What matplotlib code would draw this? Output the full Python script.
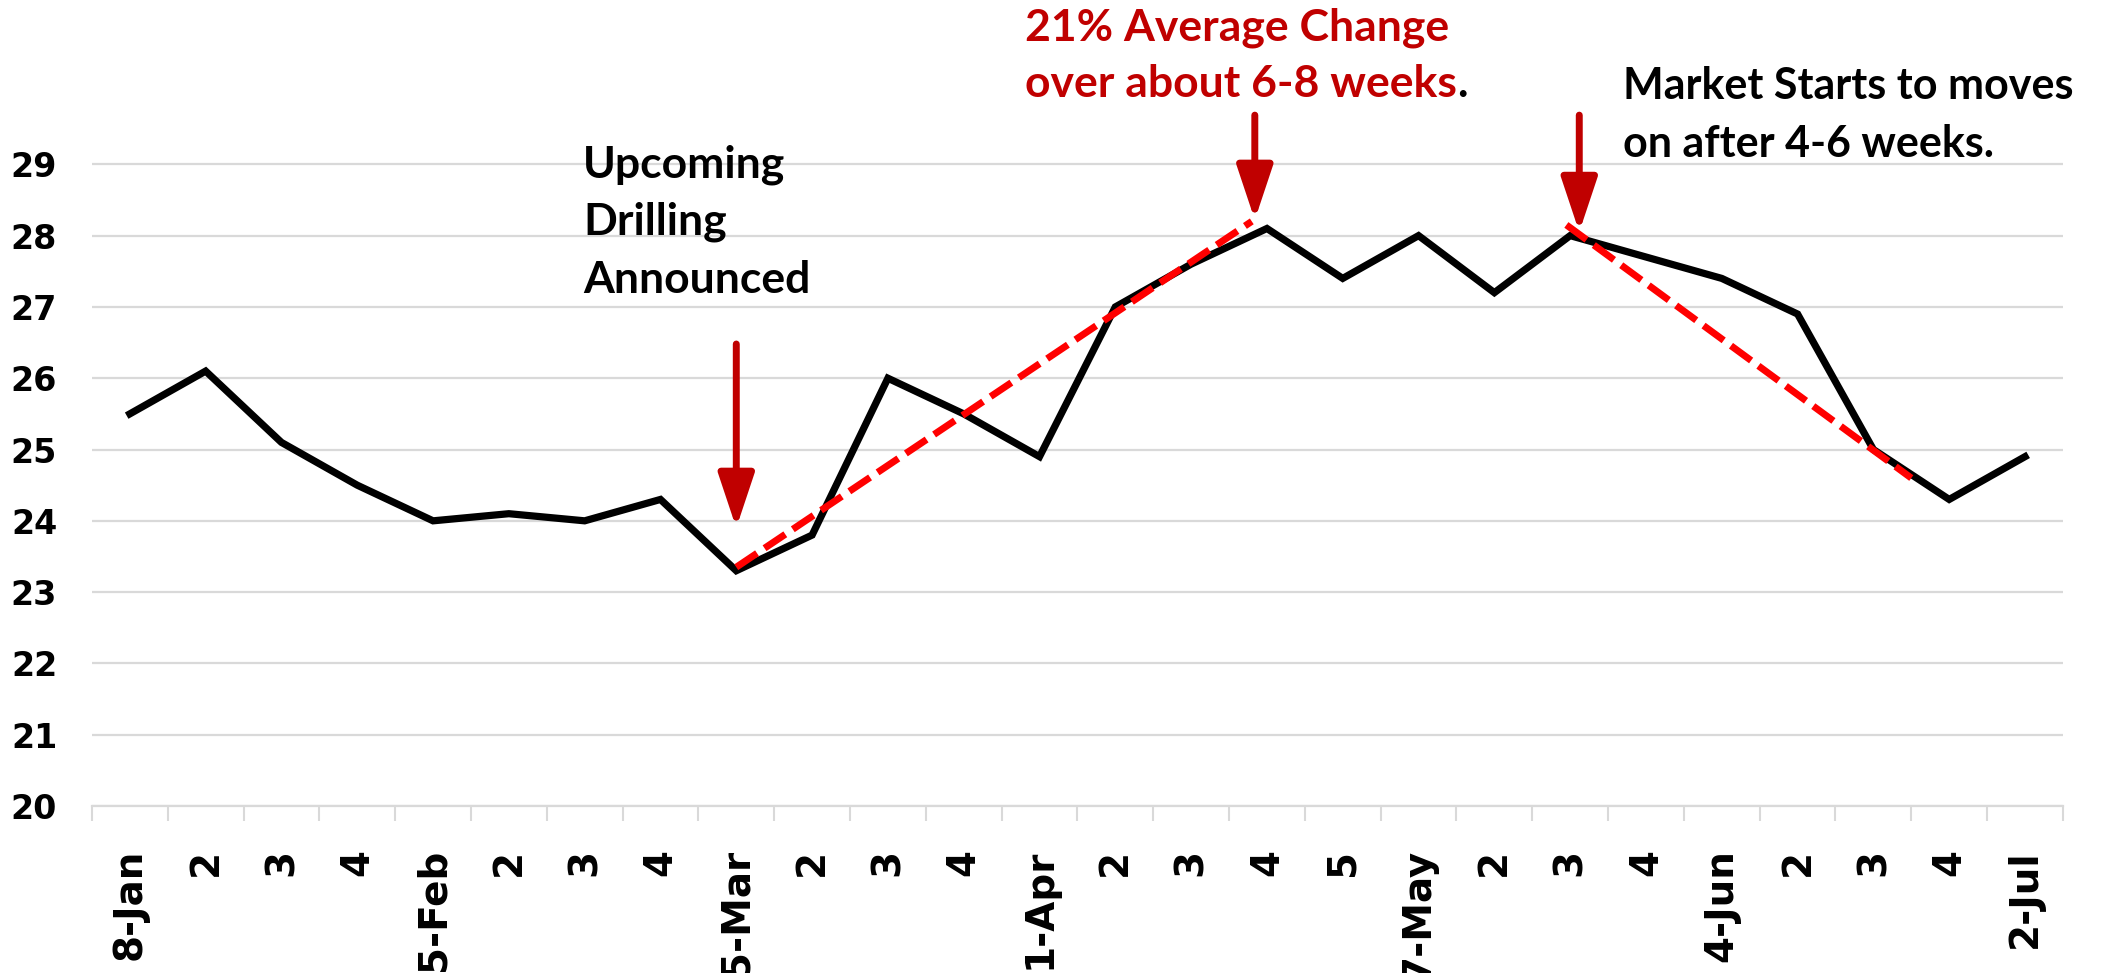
import matplotlib
matplotlib.use("Agg")
import matplotlib.pyplot as plt

# weekly price data
week_labels = ["8-Jan", "2", "3", "4", "5-Feb", "2", "3", "4", "5-Mar", "2", "3", "4",
               "1-Apr", "2", "3", "4", "5", "7-May", "2", "3", "4", "4-Jun", "2", "3", "4", "2-Jul"]
prices = [25.5, 26.1, 25.1, 24.5, 24.0, 24.1, 24.0, 24.3, 23.3, 23.8, 26.0, 25.5,
          24.9, 27.0, 27.6, 28.1, 27.4, 28.0, 27.2, 28.0, 27.7, 27.4, 26.9, 25.0, 24.3, 24.9]
y_ticks = [20, 21, 22, 23, 24, 25, 26, 27, 28, 29]

# trend lines (start / end in week index, price)
rise_x = [8.0, 14.8]
rise_y = [23.35, 28.2]
fall_x = [18.95, 23.5]
fall_y = [28.15, 24.6]

# arrows: x, tail y, tip y
arrow_x = [8.0, 14.84, 19.12]
arrow_top = [26.48, 29.69, 29.69]
arrow_tip = [23.9, 28.22, 28.05]

DARK_RED = "#C00000"
GRID = "#D9D9D9"
note_font = ["Lato", "DejaVu Sans"]

fig = plt.figure(figsize=(21.13, 9.73), dpi=100)
ax = fig.add_axes([0.0435, 0.1716, 0.9328, 0.7328])

x = list(range(len(prices)))
ax.plot(x, prices, color="black", lw=5.2, solid_joinstyle="miter", zorder=3)
ax.plot(rise_x, rise_y, color="#FF0000", lw=5, dashes=(3.6, 1.3), zorder=4)
ax.plot(fall_x, fall_y, color="#FF0000", lw=5, dashes=(3.6, 1.3), zorder=4)

for ax_x, top, tip in zip(arrow_x, arrow_top, arrow_tip):
    ax.annotate("", xy=(ax_x, tip), xytext=(ax_x, top),
                arrowprops=dict(arrowstyle="-|>,head_length=33,head_width=11",
                                mutation_scale=1, color=DARK_RED, lw=5,
                                shrinkA=0, shrinkB=0),
                annotation_clip=False, zorder=5)

ax.set_xlim(-0.5, len(prices) - 0.5)
ax.set_ylim(20, 30)
ax.set_yticks(y_ticks)
ax.set_yticklabels([str(v) for v in y_ticks], family=["Liberation Sans Narrow", "DejaVu Sans"],
                   fontweight="bold", fontsize=24)
ax.set_xticks(x)
ax.set_xticklabels(week_labels, rotation=90, fontsize=28, fontweight="bold",
                   family="DejaVu Sans", va="top")
ax.set_xticks([i - 0.5 for i in range(len(prices) + 1)], minor=True)
ax.tick_params(axis="x", which="major", length=0, pad=31)
ax.tick_params(axis="x", which="minor", length=11, width=1.5, color=GRID)
ax.tick_params(axis="y", length=0, pad=25)

ax.grid(axis="y", color=GRID, lw=1.6, zorder=0)
for side in ["top", "left", "right"]:
    ax.spines[side].set_visible(False)
ax.spines["bottom"].set_color(GRID)
ax.spines["bottom"].set_linewidth(1.6)

# notes
for txt, yy in zip(["Upcoming", "Drilling", "Announced"], [28.82, 28.01, 27.19]):
    ax.text(5.98, yy, txt, family=note_font, fontweight="bold", fontsize=32,
            ha="left", va="baseline", color="black")

ax.text(11.81, 30.74, "21% Average Change", family=note_font, fontweight="bold",
        fontsize=32, ha="left", va="baseline", color=DARK_RED, clip_on=False)
t = ax.text(11.81, 29.94, "over about 6-8 weeks", family=note_font, fontweight="bold",
            fontsize=32, ha="left", va="baseline", color=DARK_RED, clip_on=False)
ax.annotate(".", xy=(1, 0), xycoords=t, family=note_font, fontweight="bold",
            fontsize=32, ha="left", va="bottom", color="black", annotation_clip=False)

ax.text(19.70, 29.92, "Market Starts to moves", family=note_font, fontweight="bold",
        fontsize=31, ha="left", va="baseline", color="black", clip_on=False)
ax.text(19.70, 29.10, "on after 4-6 weeks.", family=note_font, fontweight="bold",
        fontsize=31, ha="left", va="baseline", color="black", clip_on=False)

fig.savefig("out.png", dpi=100)
